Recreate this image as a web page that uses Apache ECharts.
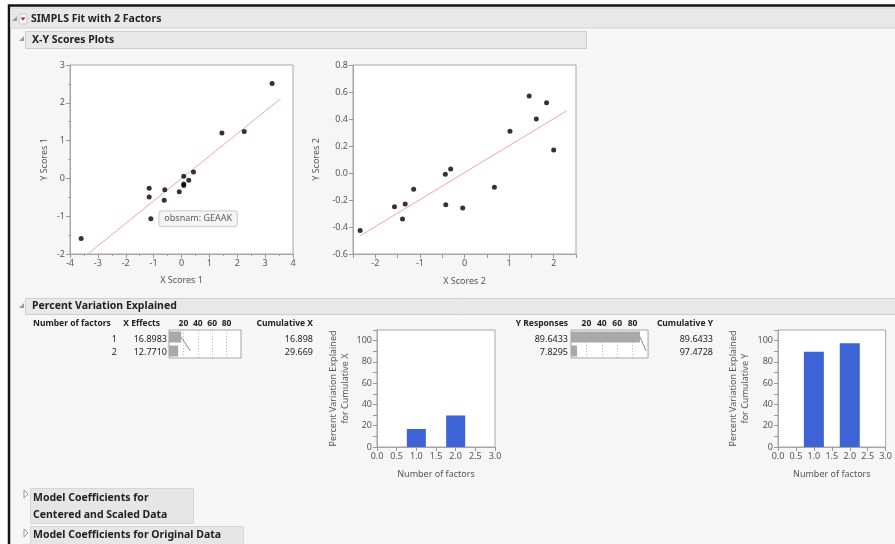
<!DOCTYPE html>
<html>
<head>
<meta charset="utf-8">
<script src="https://cdn.jsdelivr.net/npm/echarts@6/dist/echarts.min.js"></script>
<style>
  html, body { margin: 0; padding: 0; background: #fff; }
  #main { width: 895px; height: 544px; }
</style>
</head>
<body>
<div id="main"></div>
<script>
// X-Y scores, factor 1
const xScores1 = [-3.60, 3.25, 1.45, 2.25, 0.43, 0.08, 0.26, 0.08, 0.08, -0.08, -0.60, -0.62, -1.16, -1.16, -1.10];
const yScores1 = [-1.59, 2.51, 1.20, 1.24, 0.17, 0.06, -0.05, -0.15, -0.19, -0.35, -0.30, -0.58, -0.26, -0.49, -1.07];
const fitLine1 = [[-3.33, -1.98], [3.56, 2.11]];
// X-Y scores, factor 2
const xScores2 = [-2.34, -1.57, -1.33, -1.39, -1.14, -0.43, -0.31, -0.42, -0.04, 0.67, 1.02, 1.45, 1.61, 1.84, 2.00];
const yScores2 = [-0.425, -0.25, -0.23, -0.34, -0.12, -0.01, 0.03, -0.235, -0.26, -0.105, 0.31, 0.57, 0.40, 0.52, 0.17];
const fitLine2 = [[-2.34, -0.465], [2.29, 0.46]];
// the hovered point in plot 1
const labelledPoint = 14;
const labelledName = 'GEAAK';

// percent variation explained
const factors = [1, 2];
const xEffects = [16.8983, 12.7710];
const cumX = [16.898, 29.669];
const yResponses = [89.6433, 7.8295];
const cumY = [89.6433, 97.4728];

const FONT = '"Noto Sans", "Open Sans", sans-serif';
const BLUE = '#3d63d6';
const TICK = '#555';

let myChart = echarts.init(document.getElementById('main'));

function txt(x, y, s, o) {
  return {
    type: 'text', x: x, y: y, silent: true, z: 50,
    style: Object.assign({
      text: s, fill: '#222', fontFamily: FONT, fontSize: 9,
      align: 'left', textAlign: 'left', verticalAlign: 'middle', textVerticalAlign: 'middle'
    }, o || {})
  };
}
function bold(x, y, s, size, o) {
  return txt(x, y, s, Object.assign({ fontWeight: 'bold', fontSize: size }, o || {}));
}
function box(x, y, w, h, fill, stroke) {
  return {
    type: 'rect', silent: true, z: -5,
    shape: { x: x, y: y, width: w, height: h },
    style: { fill: fill, stroke: stroke || null, lineWidth: 1 }
  };
}
// open disclosure triangle (filled, pointing down-right)
function openTri(x, y) {
  return { type: 'polygon', silent: true, z: 40, shape: { points: [[x + 5, y - 3], [x + 5, y + 2], [x, y + 2]] }, style: { fill: '#9a9a9a' } };
}
// closed disclosure triangle (outline, pointing right)
function closedTri(x, y) {
  return { type: 'polygon', silent: true, z: 40, shape: { points: [[x, y - 4], [x + 4, y], [x, y + 4]] }, style: { fill: '#fff', stroke: '#999', lineWidth: 1 } };
}

const graphics = [
  // window frame
  { type: 'rect', silent: true, z: -10, shape: { x: 9, y: 5.5, width: 900, height: 560 }, style: { fill: '#f6f6f6', stroke: '#151515', lineWidth: 2.5 } },
  box(10.5, 8, 890, 20, '#e8e8e8', '#d2d2d2'),
  openTri(12, 19),
  { type: 'rect', silent: true, z: 40, shape: { x: 19, y: 14, width: 8, height: 10, r: 1 }, style: { fill: '#f4f4f4', stroke: '#c8c8c8' } },
  { type: 'polygon', silent: true, z: 41, shape: { points: [[20.5, 17.5], [25.5, 17.5], [23, 20.5]] }, style: { fill: '#d11' } },
  bold(31, 19, 'SIMPLS Fit with 2 Factors', 10.5),

  box(25.5, 31.5, 561, 17, '#e8e8e8', '#cfcfcf'),
  openTri(19, 39),
  bold(32, 40, 'X-Y Scores Plots', 10.5),

  box(25.5, 298.5, 880, 16, '#e8e8e8', '#cfcfcf'),
  openTri(19, 306),
  bold(32, 306.5, 'Percent Variation Explained', 10.5),

  // X table
  bold(33, 324, 'Number of factors', 8.5),
  bold(160, 324, 'X Effects', 8.5, { align: 'right', textAlign: 'right' }),
  bold(313, 324, 'Cumulative X', 8.5, { align: 'right', textAlign: 'right' }),
  // Y table
  bold(568, 324, 'Y Responses', 8.5, { align: 'right', textAlign: 'right' }),
  bold(713, 324, 'Cumulative Y', 8.5, { align: 'right', textAlign: 'right' }),

  // collapsed outlines
  box(30.5, 488.5, 163, 35, '#e6e6e6', '#d6d6d6'),
  closedTri(24, 494),
  bold(33, 498, 'Model Coefficients for', 10.5),
  bold(33, 515, 'Centered and Scaled Data', 10.5),
  box(30.5, 526.5, 213, 20, '#e6e6e6', '#d6d6d6'),
  closedTri(24, 533),
  bold(33, 535, 'Model Coefficients for Original Data', 10.5)
];

factors.forEach(function (f, i) {
  const y = 339 + i * 13.5;
  graphics.push(txt(117, y, String(f), { align: 'right', textAlign: 'right' }));
  graphics.push(txt(167, y, xEffects[i].toFixed(4), { align: 'right', textAlign: 'right' }));
  graphics.push(txt(313, y, cumX[i].toFixed(3), { align: 'right', textAlign: 'right' }));
  graphics.push(txt(568, y, yResponses[i].toFixed(4), { align: 'right', textAlign: 'right' }));
  graphics.push(txt(713, y, cumY[i].toFixed(4), { align: 'right', textAlign: 'right' }));
});

const gridStyle = { show: true, backgroundColor: '#fff', borderColor: '#a6a6a6', borderWidth: 1 };
const lbl = { color: TICK, fontSize: 9, fontFamily: FONT, margin: 5 };
const nm = { color: TICK, fontSize: 9, fontFamily: FONT, lineHeight: 12 };
const tick = { show: true, length: 4, lineStyle: { color: '#999' } };
const line = { show: true, onZero: false, lineStyle: { color: '#a6a6a6' } };

function scoreAxis(grid, o) {
  return Object.assign({
    gridIndex: grid, type: 'value', splitLine: { show: false },
    axisLine: line, axisTick: tick, axisLabel: lbl, nameLocation: 'middle', nameTextStyle: nm
  }, o);
}

const scatter1 = xScores1.map(function (x, i) {
  const p = { value: [x, yScores1[i]] };
  if (i === labelledPoint) {
    p.label = {
      show: true, position: 'right', distance: 6, formatter: 'obsnam: ' + labelledName,
      fontSize: 9, fontFamily: FONT, color: '#333', backgroundColor: '#f3f3f3',
      borderColor: '#c4c4c4', borderWidth: 1, borderRadius: 3, padding: [3, 5]
    };
  }
  return p;
});
const scatter2 = xScores2.map(function (x, i) { return [x, yScores2[i]]; });

myChart.setOption({
  animation: false,
  backgroundColor: '#fff',
  graphic: graphics,
  grid: [
    Object.assign({ left: 70, top: 65, width: 223, height: 189 }, gridStyle),
    Object.assign({ left: 353, top: 65, width: 223, height: 189 }, gridStyle),
    Object.assign({ left: 377, top: 330, width: 118, height: 117 }, gridStyle),
    Object.assign({ left: 778, top: 330, width: 118, height: 117 }, gridStyle),
    Object.assign({ left: 169, top: 330, width: 72, height: 28 }, gridStyle),
    Object.assign({ left: 571, top: 330, width: 77, height: 28 }, gridStyle)
  ],
  xAxis: [
    scoreAxis(0, { min: -4, max: 4, interval: 1, name: 'X Scores 1', nameGap: 20, minorTick: { show: true, splitNumber: 2, length: 2, lineStyle: { color: '#aaa' } } }),
    scoreAxis(1, { min: -2.5, max: 2.5, interval: 0.5, name: 'X Scores 2', nameGap: 21,
      axisLabel: Object.assign({}, lbl, { formatter: function (v) { return Number.isInteger(v) ? String(v) : ''; } }) }),
    scoreAxis(2, { min: 0, max: 3, interval: 0.5, name: 'Number of factors', nameGap: 21,
      axisLabel: Object.assign({}, lbl, { formatter: function (v) { return v.toFixed(1); } }) }),
    scoreAxis(3, { min: 0, max: 3, interval: 0.5, name: 'Number of factors', nameGap: 21,
      axisLabel: Object.assign({}, lbl, { formatter: function (v) { return v.toFixed(1); } }) }),
    { gridIndex: 4, type: 'value', min: 0, max: 100, interval: 20, position: 'top',
      axisLine: { show: false }, axisTick: { show: false },
      axisLabel: { color: '#222', fontSize: 8.5, fontWeight: 'bold', fontFamily: FONT, margin: 2, formatter: function (v) { return v > 0 && v < 100 ? String(v) : ''; } },
      splitLine: { show: true, lineStyle: { color: '#bbb', type: [1, 2] } } },
    { gridIndex: 5, type: 'value', min: 0, max: 100, interval: 20, position: 'top',
      axisLine: { show: false }, axisTick: { show: false },
      axisLabel: { color: '#222', fontSize: 8.5, fontWeight: 'bold', fontFamily: FONT, margin: 2, formatter: function (v) { return v > 0 && v < 100 ? String(v) : ''; } },
      splitLine: { show: true, lineStyle: { color: '#bbb', type: [1, 2] } } }
  ],
  yAxis: [
    scoreAxis(0, { min: -2, max: 3, interval: 1, name: 'Y Scores 1', nameGap: 20, minorTick: { show: true, splitNumber: 2, length: 2, lineStyle: { color: '#aaa' } } }),
    scoreAxis(1, { min: -0.6, max: 0.8, interval: 0.2, name: 'Y Scores 2', nameGap: 31,
      axisLabel: Object.assign({}, lbl, { formatter: function (v) { return v.toFixed(1); } }) }),
    scoreAxis(2, { min: 0, max: 110, interval: 10, name: 'Percent Variation Explained\nfor Cumulative X', nameGap: 26,
      axisLabel: Object.assign({}, lbl, { formatter: function (v) { return v % 20 === 0 && v <= 100 ? String(v) : ''; } }) }),
    scoreAxis(3, { min: 0, max: 110, interval: 10, name: 'Percent Variation Explained\nfor Cumulative Y', nameGap: 27,
      axisLabel: Object.assign({}, lbl, { formatter: function (v) { return v % 20 === 0 && v <= 100 ? String(v) : ''; } }) }),
    { gridIndex: 4, type: 'category', data: factors.map(String), inverse: true, show: false },
    { gridIndex: 5, type: 'category', data: factors.map(String), inverse: true, show: false }
  ],
  series: [
    { type: 'scatter', xAxisIndex: 0, yAxisIndex: 0, data: scatter1, symbolSize: 5, itemStyle: { color: '#000' }, z: 5 },
    { type: 'line', xAxisIndex: 0, yAxisIndex: 0, data: fitLine1, symbol: 'none', lineStyle: { color: '#f0a3b4', width: 1 } },
    { type: 'scatter', xAxisIndex: 1, yAxisIndex: 1, data: scatter2, symbolSize: 5, itemStyle: { color: '#000' }, z: 5 },
    { type: 'line', xAxisIndex: 1, yAxisIndex: 1, data: fitLine2, symbol: 'none', lineStyle: { color: '#f0a3b4', width: 1 } },
    { type: 'bar', xAxisIndex: 2, yAxisIndex: 2, data: factors.map(function (f, i) { return [f, cumX[i]]; }), barWidth: 19, itemStyle: { color: BLUE } },
    { type: 'bar', xAxisIndex: 3, yAxisIndex: 3, data: factors.map(function (f, i) { return [f, cumY[i]]; }), barWidth: 20, itemStyle: { color: BLUE } },
    { type: 'bar', xAxisIndex: 4, yAxisIndex: 4, data: xEffects, barWidth: 11, itemStyle: { color: '#a9a9a9' } },
    { type: 'line', xAxisIndex: 4, yAxisIndex: 4, data: cumX.map(function (v, i) { return [v, i]; }), symbol: 'none', lineStyle: { color: '#8a8a8a', width: 1 } },
    { type: 'bar', xAxisIndex: 5, yAxisIndex: 5, data: yResponses, barWidth: 11, itemStyle: { color: '#a9a9a9' } },
    { type: 'line', xAxisIndex: 5, yAxisIndex: 5, data: cumY.map(function (v, i) { return [v, i]; }), symbol: 'none', lineStyle: { color: '#8a8a8a', width: 1 } }
  ]
});
</script>
</body>
</html>
